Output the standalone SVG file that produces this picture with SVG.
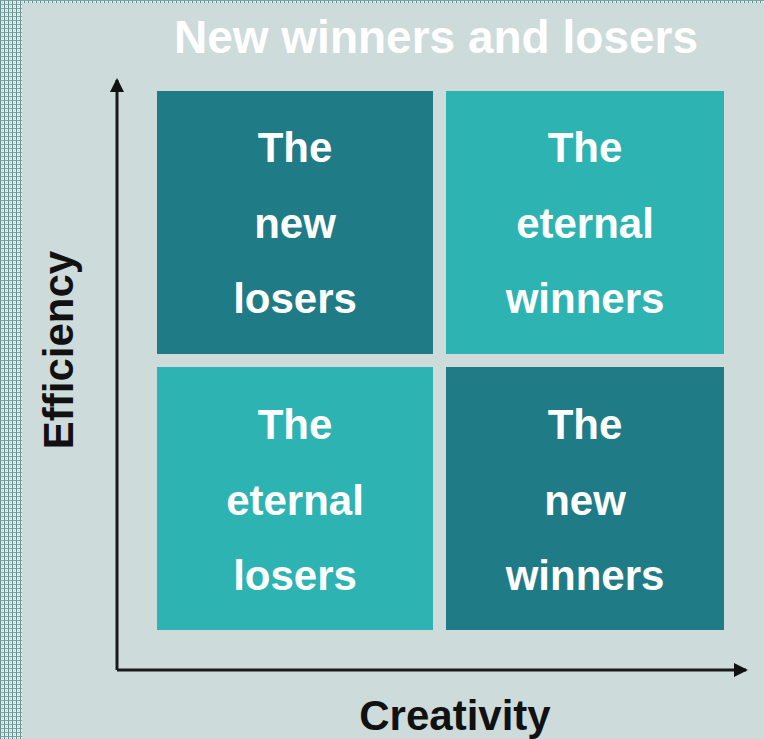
<svg xmlns="http://www.w3.org/2000/svg" width="764" height="739" viewBox="0 0 764 739">
  <defs>
    <pattern id="dots" width="4" height="4" patternUnits="userSpaceOnUse">
      <rect width="4" height="4" fill="#e9f0f0"/>
      <rect x="0" y="0" width="1" height="4" fill="#5d8b8b"/>
      <rect x="0" y="0" width="4" height="1" fill="#7aa0a0"/>
      <rect x="2" y="2" width="1" height="1" fill="#a9c2c2"/>
    </pattern>
    <marker id="arrow" viewBox="0 0 14 14" markerWidth="14" markerHeight="14" refX="12" refY="7" orient="auto" markerUnits="userSpaceOnUse">
      <path d="M0,0 L14,7 L0,14 Z" fill="#111"/>
    </marker>
  </defs>
  <style>
    .dark { fill: #1f7c86; }
    .light { fill: #2db4b2; }
    .lbl { font-family: "Liberation Sans", Arial, sans-serif; font-weight: bold; font-size: 42px; fill: #ffffff; text-anchor: middle; }
    .axis { font-family: "Liberation Sans", Arial, sans-serif; font-weight: bold; font-size: 42px; fill: #111111; text-anchor: middle; }
    .title { font-family: "Liberation Sans", Arial, sans-serif; font-weight: bold; font-size: 46px; fill: #ffffff; text-anchor: middle; }
    .ax { stroke: #1a1a1a; stroke-width: 3; fill: none; }
  </style>
  <rect width="764" height="739" fill="#cddbda"/>
  <rect x="0" y="0" width="22" height="739" fill="url(#dots)"/>
  <rect x="0" y="0" width="764" height="3" fill="url(#dots)"/>

  <text class="title" x="436" y="53">New winners and losers</text>

  <g id="connectors">
    <path class="ax" d="M117,670 L117,80" marker-end="url(#arrow)"/>
    <path class="ax" d="M117,670 L746,670" marker-end="url(#arrow)"/>
  </g>

  <g id="new-losers">
    <rect class="dark" x="157" y="91" width="276" height="263"/>
    <text class="lbl" x="295" y="162">The</text>
    <text class="lbl" x="295" y="238">new</text>
    <text class="lbl" x="295" y="313">losers</text>
  </g>
  <g id="eternal-winners">
    <rect class="light" x="446" y="91" width="278" height="263"/>
    <text class="lbl" x="585" y="162">The</text>
    <text class="lbl" x="585" y="238">eternal</text>
    <text class="lbl" x="585" y="313">winners</text>
  </g>
  <g id="eternal-losers">
    <rect class="light" x="157" y="367" width="276" height="263"/>
    <text class="lbl" x="295" y="439">The</text>
    <text class="lbl" x="295" y="515">eternal</text>
    <text class="lbl" x="295" y="590">losers</text>
  </g>
  <g id="new-winners">
    <rect class="dark" x="446" y="367" width="278" height="263"/>
    <text class="lbl" x="585" y="439">The</text>
    <text class="lbl" x="585" y="515">new</text>
    <text class="lbl" x="585" y="590">winners</text>
  </g>

  <text class="axis" transform="translate(73,350) rotate(-90)" x="0" y="0">Efficiency</text>
  <text class="axis" x="455" y="730">Creativity</text>
</svg>
